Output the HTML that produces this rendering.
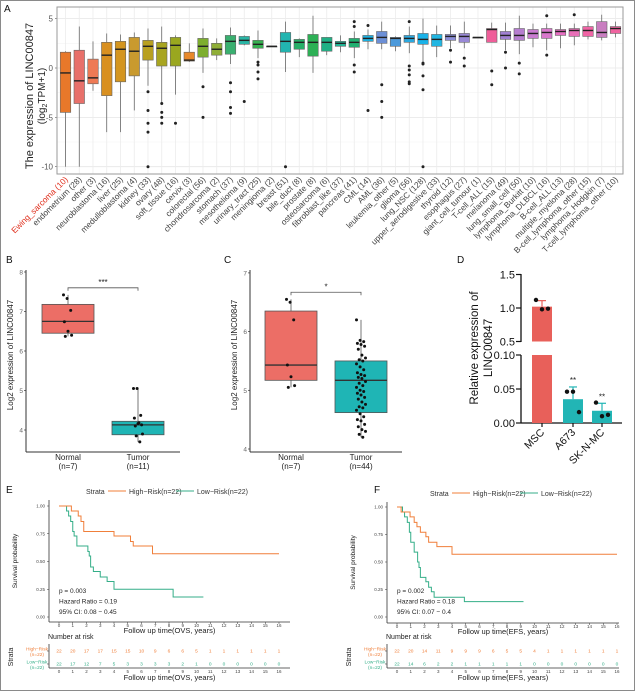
<!DOCTYPE html>
<html><head><meta charset="utf-8">
<style>
html,body{margin:0;padding:0;background:#fff;}
svg{display:block;font-family:"Liberation Sans",Arial,sans-serif;}
</style></head>
<body>
<svg id="fig" width="635" height="691" viewBox="0 0 635 691" xmlns="http://www.w3.org/2000/svg">
<rect x="0.5" y="0.5" width="634" height="690" fill="#fff" stroke="#8a8a8a"/>
</svg>
<script>
// ===== Panel A data =====
const aCats = ["Ewing_sarcoma (10)","endometrium (28)","other (3)","neuroblastoma (16)","liver (25)","medulloblastoma (4)","kidney (33)","ovary (48)","soft_tissue (16)","cervix (3)","colorectal (56)","chondrosarcoma (2)","stomach (37)","mesothelioma (9)","urinary_tract (25)","meningioma (2)","breast (51)","bile_duct (8)","prostate (8)","osteosarcoma (6)","fibroblast_like (37)","pancreas (41)","CML (14)","AML (36)","leukemia_other (5)","glioma (56)","lung_NSC (128)","upper_aerodigestive (33)","thyroid (12)","esophagus (27)","giant_cell_tumour (1)","T-cell_ALL (15)","melanoma (49)","lung_small_cell (50)","lymphoma_Burkitt (10)","lymphoma_DLBCL (16)","B-cell_ALL (13)","multiple_myeloma (28)","B-cell_lymphoma_other (15)","lymphoma_Hodgkin (7)","T-cell_lymphoma_other (10)"];
const aMed = [-0.5,-1.3,-1,1.3,1.9,1.7,2.2,2.0,2.3,0.8,2.2,1.9,2.7,2.8,2.4,2.2,2.7,2.6,2.6,2.6,2.5,2.6,3.0,3.1,3.0,3.0,2.9,2.9,3.2,3.2,3.1,3.9,3.3,3.3,3.5,3.6,3.7,3.8,3.8,3.6,4.0];
const aQ1 = [-4.5,-3.6,-1.6,-2.8,-1.4,-0.8,0.8,0.2,0.2,0.7,1.1,1.3,1.4,2.4,2.0,2.2,1.6,1.9,1.2,1.7,2.2,2.1,2.7,2.5,2.2,2.6,2.4,2.2,2.8,2.6,3.1,2.6,2.9,2.8,3.0,3.0,3.3,3.2,3.2,3.1,3.5];
const aQ3 = [1.6,1.8,0.9,2.6,2.7,3.1,2.8,2.6,3.1,1.6,3.0,2.5,3.3,3.2,2.8,2.2,3.6,2.9,3.4,3.1,2.7,3.0,3.3,3.7,3.1,3.3,3.5,3.4,3.4,3.5,3.1,4.0,3.7,4.0,3.9,4.0,3.9,4.0,4.2,4.7,4.2];
const aLo = [-10,-10,-2.3,-6.5,-6.5,-4.3,-1.8,-3.5,-2.7,0.6,-0.5,0.8,0.4,2.3,1.0,2.2,-0.4,1.1,-0.5,1.3,1.6,1.0,1.9,1.9,1.7,1.5,0.5,1.1,2.0,2.0,3.1,2.6,1.8,1.4,2.1,1.8,2.0,2.3,2.9,2.8,3.1];
const aHi = [1.7,4.2,2.7,3.5,3.4,3.6,4.0,4.2,3.3,2.5,4.0,3.0,4.1,3.3,3.8,2.2,4.7,3.0,5.3,3.1,3.3,3.7,3.9,4.7,3.2,4.2,5.0,4.3,4.3,4.7,3.1,4.6,4.6,5.3,4.5,4.5,4.5,4.5,4.7,5.4,4.7];
const aOut = [[],[],[],[],[],[],[-2.4,-4.3,-5.6,-6.5,-10],[-3.6,-4.5,-5,-5.6],[-5.6],[],[-1.9,-5],[],[-1.5,-2.4,-4,-4.6],[-3.4],[0.6,0.3,-0.4,-1.1],[],[-10],[],[],[],[],[4.7,4.2,0.3,-0.4],[4.3,-4.3],[-1.7,-3.4,-5],[],[4.7,0.2,-0.2,-0.7,-1.4,-1.6],[0.5,0.4,-0.8,-2.2,-10],[],[1.8,0.6],[1.0,0.2],[],[-0.3,-1.7],[1.6,0.0],[0.5,-0.6],[],[5.3,1.3],[],[5.4],[],[],[]];
const aColors = ["#E8782A","#E8706A","#EE7A55","#D99020","#D4951F","#C99A2E","#B8A020","#A8A520","#9AA71F","#E8892A","#7DAE2E","#8FAE37","#3AB070","#2AB5A5","#36B050","#55B050","#22B5B0","#28B068","#2DB055","#20B085","#23B89A","#20B070","#1CB0E0","#6C8FD6","#4D9ADB","#2BA9E0","#1AB2E8","#22B6E2","#8D8FD9","#9989D6","#A58AD6","#EF5E99","#A080D2","#B67ED0","#C97CD0","#D978CC","#E66EC2","#E870B8","#F065A5","#C97EC0","#F064A0"];
const aYTicks = [5,0,-5,-10];

// ===== Panel B/C data =====
const bGroups = ["Normal","Tumor"];
const bN = ["(n=7)","(n=11)"];
const bStats = [[6.37,6.45,6.75,7.18,7.42],[3.7,3.88,4.13,4.22,5.05]];
const bPtsN = [7.42,7.33,7.03,6.74,6.5,6.4,6.37];
const bPtsT = [5.05,5.05,4.37,4.3,4.16,4.13,4.1,4.18,3.9,3.85,3.7];
const bTicks = [8,7,6,5,4];
const cN = ["(n=7)","(n=44)"];
const cStats = [[5.05,5.17,5.43,6.35,6.55],[4.2,4.62,5.17,5.5,6.2]];
const cPtsN = [6.55,6.5,6.2,5.43,5.23,5.08,5.05];
const cPtsT = [6.2,5.85,5.83,5.8,5.78,5.75,5.7,5.6,5.55,5.52,5.5,5.45,5.4,5.35,5.3,5.27,5.25,5.22,5.2,5.15,5.12,5.08,5.05,5.0,4.98,4.95,4.92,4.88,4.85,4.8,4.76,4.72,4.7,4.66,4.6,4.55,4.5,4.48,4.42,4.38,4.33,4.3,4.25,4.2];
const cTicks = [7,6,5,4];

// ===== Panel D data =====
const dCats = ["MSC","A673","SK-N-MC"];
const dMeans = [1.02,0.035,0.018];
const dErr = [0.09,0.018,0.011];
const dPts = [[1.12,0.98,0.99],[0.046,0.046,0.016],[0.03,0.01,0.012]];
const dSig = ["","**","**"];

// ===== Panel E/F data =====
const eHighT = [0,0.9,1.4,1.6,1.8,4.0,5.2,5.4,6.8,16];
const eHighS = [1,0.955,0.91,0.86,0.77,0.73,0.68,0.64,0.57,0.57];
const eLowT = [0,0.55,0.7,0.85,1.0,1.1,1.3,2.1,2.2,2.3,2.5,3.0,3.5,4.0,8.3,10.5];
const eLowS = [1,0.955,0.91,0.86,0.77,0.73,0.64,0.59,0.55,0.45,0.41,0.36,0.32,0.25,0.18,0.18];
const eRiskHigh = [22,20,17,17,15,15,10,9,6,6,5,1,1,1,1,1,1];
const eRiskLow = [22,17,12,7,5,3,3,3,3,2,1,0,0,0,0,0,0];
const fHighT = [0,0.3,0.95,1.25,1.45,1.7,2.1,2.3,2.9,4.0,16];
const fHighS = [1,0.955,0.91,0.86,0.82,0.77,0.73,0.68,0.64,0.57,0.57];
const fLowT = [0,0.4,0.55,0.75,0.9,1.0,1.25,1.5,1.6,1.7,2.1,2.3,2.5,2.7,4.9,9.2];
const fLowS = [1,0.955,0.91,0.86,0.77,0.68,0.59,0.5,0.45,0.36,0.32,0.27,0.23,0.18,0.14,0.14];
const fRiskHigh = [22,20,14,11,9,9,9,6,5,5,4,1,1,1,1,1,1];
const fRiskLow = [22,14,6,2,2,1,1,1,1,1,0,0,0,0,0,0,0];
const survTicks = [1.00,0.75,0.50,0.25,0.00];

const NS="http://www.w3.org/2000/svg";
const svg=document.getElementById('fig');
function mk(tag,attrs,parent,txt){const e=document.createElementNS(NS,tag);for(const k in attrs)e.setAttribute(k,attrs[k]);if(txt!==undefined)e.textContent=txt;(parent||svg).appendChild(e);return e;}
function grp(name){const g=mk('g',{});return g;}

// ---------- Panel letters ----------
[["A",4,12],["B",6,263],["C",224,263],["D",457,263],["E",6,493],["F",374,493]].forEach(p=>{
  const t=mk('text',{x:p[1],y:p[2],'font-size':10,fill:'#111'},svg,p[0]);
  
  
});

// ---------- Panel A ----------
(function(){
  const g=grp('panel-a-boxplot');
  const L=57,R=623,T=7,B=174;
  const y=v=>68-v*9.87;
  const x=i=>65.5+i*13.75;
  const bg=mk('rect',{x:L,y:T,width:R-L,height:B-T,fill:'#fff'},g);
  
  [7.5,2.5,-2.5,-7.5].forEach(v=>mk('line',{x1:L,x2:R,y1:y(v),y2:y(v),stroke:'#f2f2f2','stroke-width':0.5},g));
  aYTicks.forEach(v=>mk('line',{x1:L,x2:R,y1:y(v),y2:y(v),stroke:'#e6e6e6','stroke-width':0.8},g));
  aCats.forEach((c,i)=>mk('line',{x1:x(i),x2:x(i),y1:T,y2:B,stroke:'#ececec','stroke-width':0.8},g));
  aYTicks.forEach(v=>{
    const t=mk('text',{x:L-4,y:y(v)+3,'font-size':8,fill:'#555','text-anchor':'end'},g,String(v));
    
    mk('line',{x1:L-2,x2:L,y1:y(v),y2:y(v),stroke:'#555','stroke-width':0.6},g);
  });
  aCats.forEach((c,i)=>{
    const cx=x(i),w=10.5;
    const bx=grp('box-'+i);g.appendChild(bx);
    mk('line',{x1:cx,x2:cx,y1:y(aHi[i]),y2:y(aLo[i]),stroke:'#555','stroke-width':0.7},bx);
    const r=mk('rect',{x:cx-w/2,y:y(aQ3[i]),width:w,height:Math.max(0.8,y(aQ1[i])-y(aQ3[i])),fill:aColors[i],stroke:'#666','stroke-width':0.6},bx);
    
    mk('line',{x1:cx-w/2,x2:cx+w/2,y1:y(aMed[i]),y2:y(aMed[i]),stroke:'#222','stroke-width':1.4},bx);
    aOut[i].forEach(v=>mk('circle',{cx:cx,cy:y(v),r:1.5,fill:'#222'},bx));
    const t=mk('text',{x:cx+3,y:180,'font-size':8.3,fill:i===0?'#E0301E':'#444','text-anchor':'end',transform:`rotate(-45 ${cx+3} 180)`},g,c);
    
  });
  mk('rect',{x:L,y:T,width:R-L,height:B-T,fill:'none',stroke:'#9a9a9a','stroke-width':1},g);
  const yl=mk('text',{x:0,y:0,'font-size':11,fill:'#222','text-anchor':'middle',transform:'translate(33 96) rotate(-90)'},g,'The expression of LINC00847');
  
  const yl2=mk('text',{x:0,y:0,'font-size':10,fill:'#222','text-anchor':'middle',transform:'translate(45 96) rotate(-90)'},g);
  
  mk('tspan',{},yl2,'(log');mk('tspan',{'font-size':7,dy:2},yl2,'2');mk('tspan',{dy:-2},yl2,'TPM+1)');
})();

// ---------- Panels B & C ----------
function boxPanel(name,ax,axRight,yfn,ticks,stats,ptsN,ptsT,centers,ns,sig,sigY,bw){
  const g=grp(name);
  mk('line',{x1:ax,x2:ax,y1:270,y2:452,stroke:'#333','stroke-width':1},g);
  mk('line',{x1:ax,x2:axRight,y1:452,y2:452,stroke:'#333','stroke-width':1},g);
  ticks.forEach(v=>{
    mk('line',{x1:ax-2,x2:ax,y1:yfn(v),y2:yfn(v),stroke:'#333','stroke-width':0.7},g);
    const t=mk('text',{x:ax-3,y:yfn(v)+2.5,'font-size':6.5,fill:'#666','text-anchor':'end'},g,String(v));
    
  });
  const cols=['#EC6E66','#1FB5B5'];
  [0,1].forEach(k=>{
    const s=stats[k],cx=centers[k];
    mk('line',{x1:cx,x2:cx,y1:yfn(s[4]),y2:yfn(s[0]),stroke:'#555','stroke-width':0.8},g);
    const r=mk('rect',{x:cx-bw/2,y:yfn(s[3]),width:bw,height:yfn(s[1])-yfn(s[3]),fill:cols[k],stroke:'#555','stroke-width':0.8},g);
    
    mk('line',{x1:cx-bw/2,x2:cx+bw/2,y1:yfn(s[2]),y2:yfn(s[2]),stroke:'#333','stroke-width':1.3},g);
    const pts=k===0?ptsN:ptsT;
    pts.forEach((v,j)=>{
      const jit=((j*37)%11-5)*0.9;
      const c=mk('circle',{cx:cx+jit,cy:yfn(v),r:1.5,fill:'#111'},g);
      
    });
    const t1=mk('text',{x:cx,y:460,'font-size':8,fill:'#222','text-anchor':'middle'},g,bGroups[k]);
    
    const t2=mk('text',{x:cx,y:469,'font-size':8,fill:'#222','text-anchor':'middle'},g,ns[k]);
    
  });
  const by=yfn(sigY);
  mk('path',{d:`M${centers[0]} ${by+3}V${by}H${centers[1]}V${by+3}`,fill:'none',stroke:'#555','stroke-width':0.8},g);
  const st=mk('text',{x:(centers[0]+centers[1])/2,y:by-3,'font-size':8,fill:'#222','text-anchor':'middle'},g,sig);
  
  const yl=mk('text',{x:0,y:0,'font-size':8,fill:'#222','text-anchor':'middle',transform:`translate(${ax-13} 355) rotate(-90)`},g,'Log2 expression of LINC00847');
  
}
boxPanel('panel-b',26,180,v=>430-(v-4)*39.5,bTicks,bStats,bPtsN,bPtsT,[68,138],bN,'***',7.6,52);
boxPanel('panel-c',250,402,v=>449-(v-4)*58.7,cTicks,cStats,cPtsN,cPtsT,[291,361],cN,'*',6.67,52);

// ---------- Panel D ----------
(function(){
  const g=grp('panel-d-bar');
  const ax=521;
  const yU=v=>308-(v-1)*67;
  const yL=v=>423-v*680;
  const yv=v=>v>=0.5?yU(v):yL(v);
  mk('line',{x1:ax,x2:ax,y1:274,y2:342,stroke:'#111','stroke-width':1.3},g);
  mk('line',{x1:ax,x2:ax,y1:355,y2:423,stroke:'#111','stroke-width':1.3},g);
  mk('line',{x1:ax,x2:622,y1:423,y2:423,stroke:'#111','stroke-width':1.3},g);
  [[1.5,yU],[1.0,yU],[0.5,yU]].forEach(a=>{
    mk('line',{x1:ax-5,x2:ax,y1:a[1](a[0]),y2:a[1](a[0]),stroke:'#111','stroke-width':1.2},g);
    const t=mk('text',{x:ax-6,y:a[1](a[0])+4,'font-size':11,fill:'#111','text-anchor':'end'},g,a[0].toFixed(1));
    
  });
  [0.10,0.05,0.00].forEach(v=>{
    mk('line',{x1:ax-5,x2:ax,y1:yL(v),y2:yL(v),stroke:'#111','stroke-width':1.2},g);
    const t=mk('text',{x:ax-6,y:yL(v)+4,'font-size':11,fill:'#111','text-anchor':'end'},g,v.toFixed(2));
    
  });
  const cx=[542,573,602],cols=['#E8605A','#22B5B5','#22B5B5'];
  dCats.forEach((c,i)=>{
    const v=dMeans[i];
    if(v>=0.5){
      const r1=mk('rect',{x:cx[i]-10,y:yU(v),width:20,height:yU(0.5)-yU(v),fill:cols[i]},g);
      
      const r2=mk('rect',{x:cx[i]-10,y:yL(0.1),width:20,height:yL(0)-yL(0.1),fill:cols[i]},g);
      
    } else {
      const r=mk('rect',{x:cx[i]-10,y:yL(v),width:20,height:yL(0)-yL(v),fill:cols[i]},g);
      
    }
    const top=yv(v+dErr[i]);
    mk('line',{x1:cx[i],x2:cx[i],y1:top,y2:yv(v),stroke:cols[i],'stroke-width':1.2},g);
    mk('line',{x1:cx[i]-4,x2:cx[i]+4,y1:top,y2:top,stroke:cols[i],'stroke-width':1.2},g);
    dPts[i].forEach((p,j)=>mk('circle',{cx:cx[i]+(j-1)*6,cy:yv(p),r:2.2,fill:'#111'},g));
    if(dSig[i]){const s=mk('text',{x:cx[i],y:top-4,'font-size':8,fill:'#222','text-anchor':'middle'},g,dSig[i]);
      }
    mk('line',{x1:cx[i],x2:cx[i],y1:423,y2:427,stroke:'#111','stroke-width':1.2},g);
    const t=mk('text',{x:cx[i]+3,y:433,'font-size':10.5,fill:'#111','text-anchor':'end',transform:`rotate(-45 ${cx[i]+3} 433)`},g,c);
    
  });
  const y1=mk('text',{x:0,y:0,'font-size':11.5,fill:'#111','text-anchor':'middle',transform:'translate(478 348) rotate(-90)'},g,'Relative expression of');
  
  const y2=mk('text',{x:0,y:0,'font-size':11.5,fill:'#111','text-anchor':'middle',transform:'translate(492 348) rotate(-90)'},g,'LINC00847');
  
})();

// ---------- Panels E & F ----------
function kmPanel(name,o){
  const g=grp(name);
  const OR='#F07F3A',GR='#34AE88';
  const x=t=>o.x0+t*13.75;
  const y=s=>o.y0-s*(o.y0-o.y1);
  const lt=mk('text',{x:o.legX,y:o.legY+3,'font-size':7,fill:'#333'},g,'Strata');
  
  mk('line',{x1:o.legX+22,x2:o.legX+40,y1:o.legY,y2:o.legY,stroke:OR,'stroke-width':1},g);
  const l1=mk('text',{x:o.legX+43,y:o.legY+3,'font-size':7,fill:'#333'},g,'High−Risk(n=22)');
  
  mk('line',{x1:o.legX+90,x2:o.legX+108,y1:o.legY,y2:o.legY,stroke:GR,'stroke-width':1},g);
  const l2=mk('text',{x:o.legX+111,y:o.legY+3,'font-size':7,fill:'#333'},g,'Low−Risk(n=22)');
  
  mk('line',{x1:o.L,x2:o.L,y1:o.T,y2:o.B,stroke:'#333','stroke-width':0.8},g);
  mk('line',{x1:o.L,x2:o.R,y1:o.B,y2:o.B,stroke:'#333','stroke-width':0.8},g);
  survTicks.forEach(s=>{
    mk('line',{x1:o.L-2,x2:o.L,y1:y(s),y2:y(s),stroke:'#333','stroke-width':0.5},g);
    const t=mk('text',{x:o.L-4,y:y(s)+1.5,'font-size':4.5,fill:'#444','text-anchor':'end'},g,s.toFixed(2));
    
  });
  for(let t=0;t<=16;t++){
    mk('line',{x1:x(t),x2:x(t),y1:o.B,y2:o.B+2,stroke:'#333','stroke-width':0.5},g);
    const tt=mk('text',{x:x(t),y:o.B+5,'font-size':4.5,fill:'#444','text-anchor':'middle'},g,String(t));
    
  }
  const xt=mk('text',{x:(o.L+o.R)/2,y:o.B+11,'font-size':7.5,fill:'#222','text-anchor':'middle'},g,o.xTitle);
  
  const yt=mk('text',{x:0,y:0,'font-size':6.5,fill:'#222','text-anchor':'middle',transform:`translate(${o.L-32} ${(o.T+o.B)/2}) rotate(-90)`},g,'Survival probability');
  
  function step(T,S,col,nm){
    let d=`M${x(T[0])} ${y(S[0])}`;
    for(let i=1;i<T.length;i++){d+=`H${x(T[i])}V${y(S[i])}`;}
    const p=mk('path',{d:d,fill:'none',stroke:col,'stroke-width':1},g);
    
  }
  step(o.lowT,o.lowS,GR,'curve-low-risk');
  step(o.highT,o.highS,OR,'curve-high-risk');
  o.stats.forEach((s,i)=>{
    const t=mk('text',{x:x(0),y:o.statY+i*10.5,'font-size':6.5,fill:'#222'},g,s);
    
  });
  const nr=mk('text',{x:o.L-1,y:639,'font-size':7,fill:'#222'},g,'Number at risk');
  
  mk('line',{x1:o.L,x2:o.L,y1:644,y2:668,stroke:'#333','stroke-width':0.8},g);
  mk('line',{x1:o.L,x2:o.R,y1:668,y2:668,stroke:'#333','stroke-width':0.8},g);
  [[o.riskHigh,651,OR,'High−Risk'],[o.riskLow,664,GR,'Low−Risk']].forEach(row=>{
    row[0].forEach((n,t)=>{
      const tt=mk('text',{x:x(t),y:row[1]+1.5,'font-size':4.8,fill:row[2],'text-anchor':'middle'},g,String(n));
      
    });
    const a=mk('text',{x:o.L-12,y:row[1]-0.5,'font-size':4.8,fill:row[2],'text-anchor':'middle'},g,row[3]);
    
    mk('text',{x:o.L-12,y:row[1]+5,'font-size':4.8,fill:row[2],'text-anchor':'middle'},g,'(n=22)');
    mk('line',{x1:o.L-2,x2:o.L,y1:row[1],y2:row[1],stroke:'#333','stroke-width':0.5},g);
  });
  for(let t=0;t<=16;t++){
    mk('text',{x:x(t),y:673,'font-size':4.5,fill:'#444','text-anchor':'middle'},g,String(t));
  }
  const xt2=mk('text',{x:(o.L+o.R)/2,y:680,'font-size':7.5,fill:'#222','text-anchor':'middle'},g,o.xTitle);
  
  const st=mk('text',{x:0,y:0,'font-size':7,fill:'#222','text-anchor':'middle',transform:`translate(${o.L-36} 657) rotate(-90)`},g,'Strata');
  
}
kmPanel('panel-e-km',{L:49,R:290,T:500,B:622,x0:59,y0:617,y1:506,legX:86,legY:491,xTitle:'Follow up time(OVS, years)',
  highT:eHighT,highS:eHighS,lowT:eLowT,lowS:eLowS,riskHigh:eRiskHigh,riskLow:eRiskLow,statY:593,
  stats:['p = 0.003','Hazard Ratio = 0.19','95% CI: 0.08 − 0.45']});
kmPanel('panel-f-km',{L:387,R:619,T:502,B:623,x0:397,y0:617,y1:507,legX:430,legY:493,xTitle:'Follow up time(EFS, years)',
  highT:fHighT,highS:fHighS,lowT:fLowT,lowS:fLowS,riskHigh:fRiskHigh,riskLow:fRiskLow,statY:593,
  stats:['p = 0.002','Hazard Ratio = 0.18','95% CI: 0.07 − 0.4']});
</script>
</body></html>
